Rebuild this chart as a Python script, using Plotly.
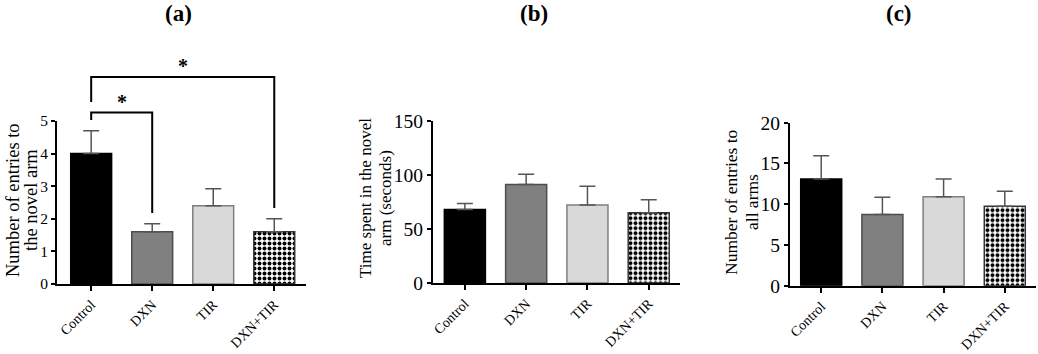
import plotly.graph_objects as go

# ---------------- data ----------------
categories = ["Control", "DXN", "TIR", "DXN+TIR"]

entries_novel_mean = [4.0, 1.6, 2.4, 1.6]
entries_novel_sem = [0.7, 0.25, 0.52, 0.4]

time_novel_mean = [68, 91, 72, 65]
time_novel_sem = [5.5, 9.5, 17.5, 12.0]

entries_all_mean = [13.1, 8.75, 10.9, 9.75]
entries_all_sem = [2.85, 2.1, 2.2, 1.85]

# significance brackets for panel (a): (from, to, left-leg bottom, top, right-leg bottom)
bracket_from = ["Control", "Control"]
bracket_to = ["DXN", "DXN+TIR"]
bracket_left_low = [5.03, 5.58]
bracket_top = [5.26, 6.35]
bracket_right_low = [2.18, 2.33]
bracket_label = ["*", "*"]

panel_titles = ["(a)", "(b)", "(c)"]
y_title_lines = [["Number of entries to", "the novel arm"],
                 ["Time spent in the novel", "arm (seconds)"],
                 ["Number of entries to", "all arms"]]
y_ranges = [[0, 5], [0, 150], [0, 20]]
y_dticks = [1, 50, 5]

# ---------------- styling ----------------
W, H = 1038, 354
FONT = "Liberation Serif, Times New Roman, serif"
fill_colors = ["#000000", "#808080", "#d9d9d9", "#000000"]
line_colors = ["#000000", "#4d4d4d", "#7f7f7f", "#333333"]
pattern_shapes = ["", "", "", "."]
pattern_bg = ["#000000", "#808080", "#d9d9d9", "#000000"]
pattern_fg = ["#000000", "#808080", "#d9d9d9", "#6c6c6c"]


def px_x(p):
    return p / W


def px_y(p):
    return 1 - p / H


# pixel layout of the three panels: (x left, x right, y bottom, y top)
panel_px = [(57, 306, 284, 121), (433, 680, 283, 120.7), (790, 1036, 285.7, 122.7)]
x_ranges = [[-0.56, 3.52], [-0.52, 3.51], [-0.51, 3.51]]
tick_sizes = [15.5, 19.5, 19.5]
ytitle_sizes = [18.5, 17, 17.5]
ytitle_line_px = [(13, 31), (366, 386), (731, 752)]
ytitle_center_px = [200, 198, 202]
title_centers_px = [178, 534, 899]

fig = go.Figure()
series = [(entries_novel_mean, entries_novel_sem),
          (time_novel_mean, time_novel_sem),
          (entries_all_mean, entries_all_sem)]

for i, (mean, sem) in enumerate(series):
    ax = "" if i == 0 else str(i + 1)
    fig.add_trace(go.Bar(
        x=categories, y=mean,
        width=0.67,
        marker=dict(color=fill_colors,
                    line=dict(color=line_colors, width=1.5),
                    pattern=dict(shape=pattern_shapes, fgcolor=pattern_fg,
                                 bgcolor=pattern_bg, fgopacity=1,
                                 size=5, solidity=0.5, fillmode="replace")),
        error_y=dict(type="data", symmetric=False, array=sem,
                     arrayminus=[0] * len(sem), color="#555555",
                     thickness=1.5, width=8),
        xaxis="x" + ax, yaxis="y" + ax, showlegend=False,
    ))
    xl, xr, yb, yt = panel_px[i]
    fig.layout["xaxis" + ax] = dict(
        domain=[px_x(xl), px_x(xr)], anchor="y" + ax, range=x_ranges[i],
        type="category", categoryorder="array", categoryarray=categories,
        showline=True, linecolor="#000", linewidth=2, ticks="outside",
        ticklen=5, tickwidth=1.5, tickcolor="#000", tickangle=-45,
        tickfont=dict(family=FONT, size=14, color="#000"), showgrid=False,
        zeroline=False, automargin=False,
    )
    fig.layout["yaxis" + ax] = dict(
        domain=[px_y(yb), px_y(yt)], anchor="x" + ax, range=y_ranges[i],
        dtick=y_dticks[i], tick0=0,
        showline=True, linecolor="#000", linewidth=2, ticks="outside",
        ticklen=4, tickwidth=1.5, tickcolor="#000", ticklabelstandoff=0,
        tickfont=dict(family=FONT, size=tick_sizes[i], color="#000"),
        showgrid=False, zeroline=False, automargin=False,
    )
    for line_text, lx in zip(y_title_lines[i], ytitle_line_px[i]):
        fig.add_annotation(
            x=px_x(lx), y=px_y(ytitle_center_px[i]), xref="paper", yref="paper",
            text=line_text, textangle=-90, showarrow=False,
            xanchor="center", yanchor="middle",
            font=dict(family=FONT, size=ytitle_sizes[i], color="#000"),
        )
    fig.add_annotation(
        x=px_x(title_centers_px[i]), y=px_y(14), xref="paper", yref="paper",
        text="<b>" + panel_titles[i] + "</b>", showarrow=False,
        xanchor="center", yanchor="middle",
        font=dict(family=FONT, size=23, color="#000"),
    )

# overlay axis pair for the significance brackets of panel (a)
xl, xr, yb, yt = panel_px[0]
top_px = 55
scale = (y_ranges[0][1] - y_ranges[0][0]) / (yb - yt)
fig.layout["xaxis4"] = dict(domain=[px_x(xl), px_x(xr)], anchor="y4",
                            range=x_ranges[0], type="category",
                            categoryorder="array", categoryarray=categories,
                            visible=False, automargin=False)
fig.layout["yaxis4"] = dict(domain=[px_y(yb), px_y(top_px)], anchor="x4",
                            range=[0, (yb - top_px) * scale], visible=False,
                            automargin=False)

for f, t, lo_l, top, lo_r, lab in zip(bracket_from, bracket_to, bracket_left_low,
                                       bracket_top, bracket_right_low, bracket_label):
    fig.add_trace(go.Scatter(
        x=[f, f, t, t], y=[lo_l, top, top, lo_r], mode="lines",
        line=dict(color="#000", width=2), xaxis="x4", yaxis="y4",
        showlegend=False, hoverinfo="skip",
    ))
    i_f, i_t = categories.index(f), categories.index(t)
    fig.add_annotation(
        x=(i_f + i_t) / 2, y=top, xref="x4", yref="y4", text="<b>" + lab + "</b>",
        showarrow=False, yanchor="bottom", yshift=-2,
        font=dict(family=FONT, size=20, color="#000"),
    )

fig.update_layout(
    width=W, height=H, margin=dict(l=0, r=0, t=0, b=0, autoexpand=False),
    paper_bgcolor="white", plot_bgcolor="rgba(0,0,0,0)", bargap=0.33,
)

fig.write_html("out.html", config={"displayModeBar": False},
               post_script="document.body.style.margin='0px';document.body.style.overflow='hidden';")
